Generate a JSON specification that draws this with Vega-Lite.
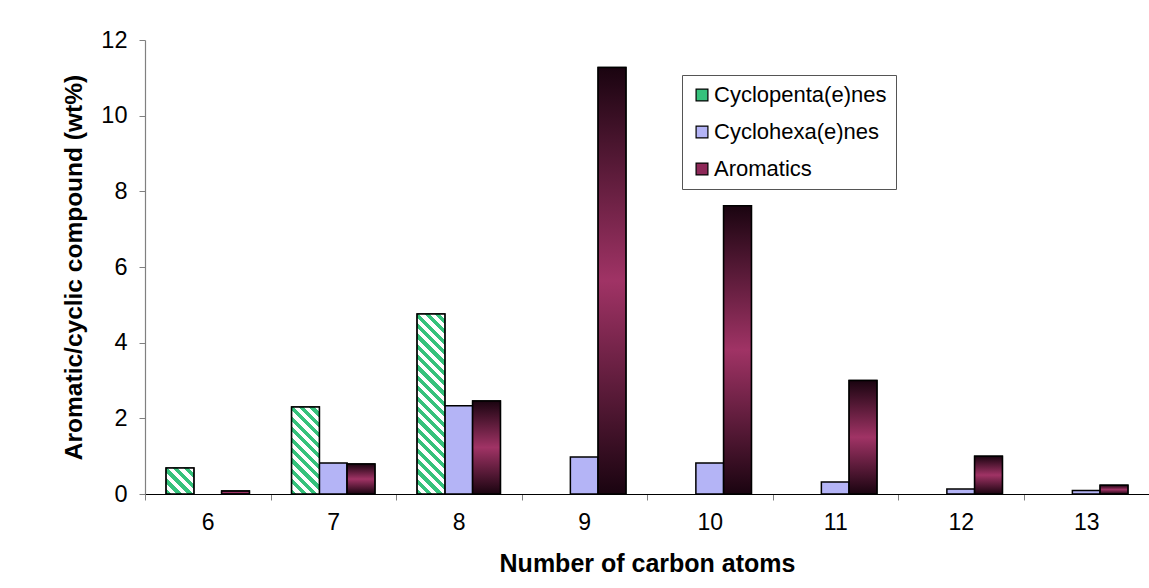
{
  "$schema": "https://vega.github.io/schema/vega-lite/v6.json",
  "width": 1004,
  "height": 454,
  "autosize": {"type": "none"},
  "padding": {"left": 145, "top": 40, "right": 0, "bottom": 94},
  "background": "white",
  "config": {
    "view": {"stroke": null},
    "font": "Liberation Sans",
    "axis": {"labelFont": "Liberation Sans", "titleFont": "Liberation Sans", "labelColor": "#000000", "titleColor": "#000000", "grid": false},
    "legend": {"labelFont": "Liberation Sans"}
  },
  "data": {
    "values": [
      {"carbon": 6, "series": "Cyclopenta(e)nes", "wt": 0.69},
      {"carbon": 6, "series": "Aromatics", "wt": 0.08},
      {"carbon": 7, "series": "Cyclopenta(e)nes", "wt": 2.30},
      {"carbon": 7, "series": "Cyclohexa(e)nes", "wt": 0.82},
      {"carbon": 7, "series": "Aromatics", "wt": 0.79},
      {"carbon": 8, "series": "Cyclopenta(e)nes", "wt": 4.76},
      {"carbon": 8, "series": "Cyclohexa(e)nes", "wt": 2.33},
      {"carbon": 8, "series": "Aromatics", "wt": 2.46},
      {"carbon": 9, "series": "Cyclohexa(e)nes", "wt": 0.98},
      {"carbon": 9, "series": "Aromatics", "wt": 11.27},
      {"carbon": 10, "series": "Cyclohexa(e)nes", "wt": 0.82},
      {"carbon": 10, "series": "Aromatics", "wt": 7.62},
      {"carbon": 11, "series": "Cyclohexa(e)nes", "wt": 0.32},
      {"carbon": 11, "series": "Aromatics", "wt": 3.00},
      {"carbon": 12, "series": "Cyclohexa(e)nes", "wt": 0.13},
      {"carbon": 12, "series": "Aromatics", "wt": 1.00},
      {"carbon": 13, "series": "Cyclohexa(e)nes", "wt": 0.09},
      {"carbon": 13, "series": "Aromatics", "wt": 0.23}
    ]
  },
  "encoding": {
    "x": {
      "field": "carbon",
      "type": "ordinal",
      "scale": {"paddingInner": 0, "paddingOuter": 0},
      "axis": {
        "title": "Number of carbon atoms",
        "titleFontSize": 25,
        "titleFontWeight": "bold",
        "titlePadding": 17,
        "labelAngle": 0,
        "labelFontSize": 23,
        "labelPadding": 11,
        "tickBand": "extent",
        "tickSize": 6,
        "tickColor": "#808080",
        "domainColor": "#000000",
        "domainWidth": 1.2
      }
    },
    "xOffset": {
      "field": "series",
      "type": "nominal",
      "scale": {"domain": ["Cyclopenta(e)nes", "Cyclohexa(e)nes", "Aromatics"], "paddingInner": 0, "paddingOuter": 0.76}
    },
    "y": {
      "field": "wt",
      "type": "quantitative",
      "scale": {"domain": [0, 12], "nice": false},
      "axis": {
        "title": "Aromatic/cyclic compound (wt%)",
        "titleFontSize": 24.5,
        "titleFontWeight": "bold",
        "titlePadding": 14,
        "values": [0, 2, 4, 6, 8, 10, 12],
        "labelFontSize": 23.5,
        "labelPadding": 12,
        "tickSize": 6,
        "tickColor": "#808080",
        "domainColor": "#808080",
        "domainWidth": 1.2
      }
    }
  },
  "layer": [
    {
      "mark": {"type": "bar", "stroke": "#000000", "strokeWidth": 1.5},
      "encoding": {
        "color": {
          "field": "series",
          "type": "nominal",
          "scale": {"domain": ["Cyclopenta(e)nes", "Cyclohexa(e)nes", "Aromatics"], "range": ["#36c27c", "#b4b4f6", "#8e2858"]},
          "legend": {
            "title": null,
            "orient": "none",
            "legendX": 537,
            "legendY": 35,
            "symbolType": "square",
            "symbolSize": 140,
            "symbolStrokeColor": "#000000",
            "symbolStrokeWidth": 1.2,
            "symbolOpacity": 1,
            "labelFontSize": 22,
            "labelLimit": 400,
            "labelColor": "#000000",
            "labelOffset": 1,
            "rowPadding": 15,
            "padding": 9,
            "strokeColor": "#555555",
            "fillColor": "#ffffff"
          }
        }
      }
    },
    {
      "transform": [{"filter": "datum.series === 'Cyclopenta(e)nes'"}],
      "mark": {"type": "bar", "stroke": "#000000", "strokeWidth": 1.5},
      "encoding": {
        "fill": {
          "condition": [
            {
              "test": "datum.carbon === 6",
              "value": {
                "gradient": "linear", "x1": 0, "y1": 1, "x2": 1.030, "y2": 0.032,
                "stops": [
                  {"offset": 0, "color": "#36c27c"}, {"offset": 0.1, "color": "#36c27c"}, {"offset": 0.1, "color": "#ffffff"}, {"offset": 0.2, "color": "#ffffff"},
                  {"offset": 0.2, "color": "#36c27c"}, {"offset": 0.3, "color": "#36c27c"}, {"offset": 0.3, "color": "#ffffff"}, {"offset": 0.4, "color": "#ffffff"},
                  {"offset": 0.4, "color": "#36c27c"}, {"offset": 0.5, "color": "#36c27c"}, {"offset": 0.5, "color": "#ffffff"}, {"offset": 0.6, "color": "#ffffff"},
                  {"offset": 0.6, "color": "#36c27c"}, {"offset": 0.7, "color": "#36c27c"}, {"offset": 0.7, "color": "#ffffff"}, {"offset": 0.8, "color": "#ffffff"},
                  {"offset": 0.8, "color": "#36c27c"}, {"offset": 0.9, "color": "#36c27c"}, {"offset": 0.9, "color": "#ffffff"}, {"offset": 1, "color": "#ffffff"}
                ]
              }
            },
            {
              "test": "datum.carbon === 7",
              "value": {
                "gradient": "linear", "x1": 0, "y1": 1, "x2": 0.382, "y2": -0.197,
                "stops": [
                  {"offset": 0, "color": "#36c27c"}, {"offset": 0.04545, "color": "#36c27c"}, {"offset": 0.04545, "color": "#ffffff"}, {"offset": 0.09091, "color": "#ffffff"},
                  {"offset": 0.09091, "color": "#36c27c"}, {"offset": 0.13636, "color": "#36c27c"}, {"offset": 0.13636, "color": "#ffffff"}, {"offset": 0.18182, "color": "#ffffff"},
                  {"offset": 0.18182, "color": "#36c27c"}, {"offset": 0.22727, "color": "#36c27c"}, {"offset": 0.22727, "color": "#ffffff"}, {"offset": 0.27273, "color": "#ffffff"},
                  {"offset": 0.27273, "color": "#36c27c"}, {"offset": 0.31818, "color": "#36c27c"}, {"offset": 0.31818, "color": "#ffffff"}, {"offset": 0.36364, "color": "#ffffff"},
                  {"offset": 0.36364, "color": "#36c27c"}, {"offset": 0.40909, "color": "#36c27c"}, {"offset": 0.40909, "color": "#ffffff"}, {"offset": 0.45455, "color": "#ffffff"},
                  {"offset": 0.45455, "color": "#36c27c"}, {"offset": 0.5, "color": "#36c27c"}, {"offset": 0.5, "color": "#ffffff"}, {"offset": 0.54545, "color": "#ffffff"},
                  {"offset": 0.54545, "color": "#36c27c"}, {"offset": 0.59091, "color": "#36c27c"}, {"offset": 0.59091, "color": "#ffffff"}, {"offset": 0.63636, "color": "#ffffff"},
                  {"offset": 0.63636, "color": "#36c27c"}, {"offset": 0.68182, "color": "#36c27c"}, {"offset": 0.68182, "color": "#ffffff"}, {"offset": 0.72727, "color": "#ffffff"},
                  {"offset": 0.72727, "color": "#36c27c"}, {"offset": 0.77273, "color": "#36c27c"}, {"offset": 0.77273, "color": "#ffffff"}, {"offset": 0.81818, "color": "#ffffff"},
                  {"offset": 0.81818, "color": "#36c27c"}, {"offset": 0.86364, "color": "#36c27c"}, {"offset": 0.86364, "color": "#ffffff"}, {"offset": 0.90909, "color": "#ffffff"},
                  {"offset": 0.90909, "color": "#36c27c"}, {"offset": 0.95455, "color": "#36c27c"}, {"offset": 0.95455, "color": "#ffffff"}, {"offset": 1, "color": "#ffffff"}
                ]
              }
            },
            {
              "test": "datum.carbon === 8",
              "value": {
                "gradient": "linear", "x1": 0, "y1": 1, "x2": 0.1739, "y2": -0.1274,
                "stops": [
                  {"offset": 0, "color": "#36c27c"}, {"offset": 0.025, "color": "#36c27c"}, {"offset": 0.025, "color": "#ffffff"}, {"offset": 0.05, "color": "#ffffff"},
                  {"offset": 0.05, "color": "#36c27c"}, {"offset": 0.075, "color": "#36c27c"}, {"offset": 0.075, "color": "#ffffff"}, {"offset": 0.1, "color": "#ffffff"},
                  {"offset": 0.1, "color": "#36c27c"}, {"offset": 0.125, "color": "#36c27c"}, {"offset": 0.125, "color": "#ffffff"}, {"offset": 0.15, "color": "#ffffff"},
                  {"offset": 0.15, "color": "#36c27c"}, {"offset": 0.175, "color": "#36c27c"}, {"offset": 0.175, "color": "#ffffff"}, {"offset": 0.2, "color": "#ffffff"},
                  {"offset": 0.2, "color": "#36c27c"}, {"offset": 0.225, "color": "#36c27c"}, {"offset": 0.225, "color": "#ffffff"}, {"offset": 0.25, "color": "#ffffff"},
                  {"offset": 0.25, "color": "#36c27c"}, {"offset": 0.275, "color": "#36c27c"}, {"offset": 0.275, "color": "#ffffff"}, {"offset": 0.3, "color": "#ffffff"},
                  {"offset": 0.3, "color": "#36c27c"}, {"offset": 0.325, "color": "#36c27c"}, {"offset": 0.325, "color": "#ffffff"}, {"offset": 0.35, "color": "#ffffff"},
                  {"offset": 0.35, "color": "#36c27c"}, {"offset": 0.375, "color": "#36c27c"}, {"offset": 0.375, "color": "#ffffff"}, {"offset": 0.4, "color": "#ffffff"},
                  {"offset": 0.4, "color": "#36c27c"}, {"offset": 0.425, "color": "#36c27c"}, {"offset": 0.425, "color": "#ffffff"}, {"offset": 0.45, "color": "#ffffff"},
                  {"offset": 0.45, "color": "#36c27c"}, {"offset": 0.475, "color": "#36c27c"}, {"offset": 0.475, "color": "#ffffff"}, {"offset": 0.5, "color": "#ffffff"},
                  {"offset": 0.5, "color": "#36c27c"}, {"offset": 0.525, "color": "#36c27c"}, {"offset": 0.525, "color": "#ffffff"}, {"offset": 0.55, "color": "#ffffff"},
                  {"offset": 0.55, "color": "#36c27c"}, {"offset": 0.575, "color": "#36c27c"}, {"offset": 0.575, "color": "#ffffff"}, {"offset": 0.6, "color": "#ffffff"},
                  {"offset": 0.6, "color": "#36c27c"}, {"offset": 0.625, "color": "#36c27c"}, {"offset": 0.625, "color": "#ffffff"}, {"offset": 0.65, "color": "#ffffff"},
                  {"offset": 0.65, "color": "#36c27c"}, {"offset": 0.675, "color": "#36c27c"}, {"offset": 0.675, "color": "#ffffff"}, {"offset": 0.7, "color": "#ffffff"},
                  {"offset": 0.7, "color": "#36c27c"}, {"offset": 0.725, "color": "#36c27c"}, {"offset": 0.725, "color": "#ffffff"}, {"offset": 0.75, "color": "#ffffff"},
                  {"offset": 0.75, "color": "#36c27c"}, {"offset": 0.775, "color": "#36c27c"}, {"offset": 0.775, "color": "#ffffff"}, {"offset": 0.8, "color": "#ffffff"},
                  {"offset": 0.8, "color": "#36c27c"}, {"offset": 0.825, "color": "#36c27c"}, {"offset": 0.825, "color": "#ffffff"}, {"offset": 0.85, "color": "#ffffff"},
                  {"offset": 0.85, "color": "#36c27c"}, {"offset": 0.875, "color": "#36c27c"}, {"offset": 0.875, "color": "#ffffff"}, {"offset": 0.9, "color": "#ffffff"},
                  {"offset": 0.9, "color": "#36c27c"}, {"offset": 0.925, "color": "#36c27c"}, {"offset": 0.925, "color": "#ffffff"}, {"offset": 0.95, "color": "#ffffff"},
                  {"offset": 0.95, "color": "#36c27c"}, {"offset": 0.975, "color": "#36c27c"}, {"offset": 0.975, "color": "#ffffff"}, {"offset": 1, "color": "#ffffff"}
                ]
              }
            }
          ],
          "value": "#36c27c"
        }
      }
    },
    {
      "transform": [{"filter": "datum.series === 'Aromatics'"}],
      "mark": {
        "type": "bar",
        "stroke": "#000000",
        "strokeWidth": 1.5,
        "fill": {
          "gradient": "linear", "x1": 0, "y1": 0, "x2": 0, "y2": 1,
          "stops": [
            {"offset": 0, "color": "#1a0410"},
            {"offset": 0.5, "color": "#a03365"},
            {"offset": 1, "color": "#1a0410"}
          ]
        }
      }
    }
  ]
}
